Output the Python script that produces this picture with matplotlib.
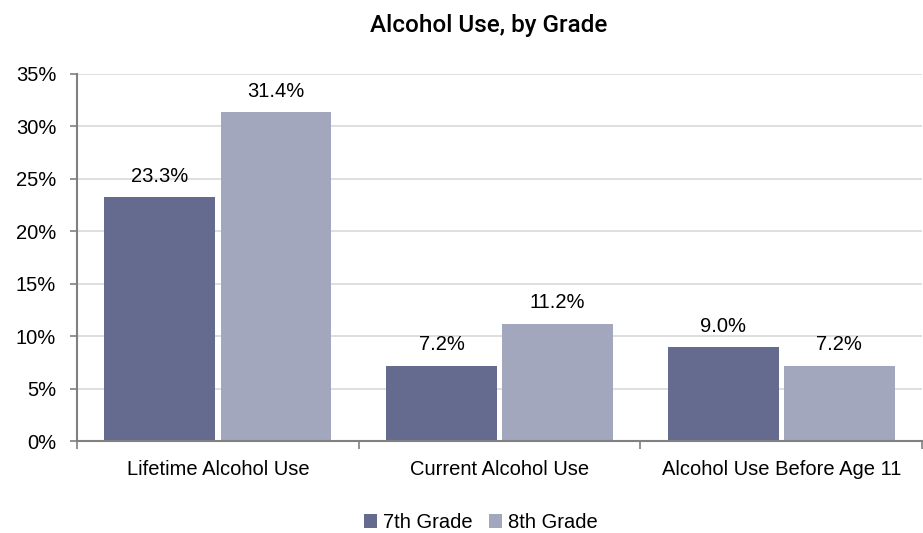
import matplotlib.pyplot as plt
import numpy as np
from matplotlib.ticker import FuncFormatter

categories = ['Lifetime Alcohol Use', 'Current Alcohol Use', 'Alcohol Use Before Age 11']
grade7 = [23.3, 7.2, 9.0]
grade8 = [31.4, 11.2, 7.2]
series_names = ['7th Grade', '8th Grade']

c7 = '#646B8E'
c8 = '#A3A7BE'

plt.rcParams['font.family'] = ['Liberation Sans', 'DejaVu Sans']
fs = 14.5

fig = plt.figure(figsize=(9.23, 5.33), dpi=100)
ax = fig.add_axes([0.0834, 0.1726, 0.9156, 0.6886])

x = np.arange(len(categories))
w = 0.393
off = 0.206
b7 = ax.bar(x - off, grade7, w, color=c7, label=series_names[0], zorder=2)
b8 = ax.bar(x + off, grade8, w, color=c8, label=series_names[1], zorder=2)

for bars, vals in ((b7, grade7), (b8, grade8)):
    for b, v in zip(bars, vals):
        ax.annotate(f'{v:.1f}%', (b.get_x() + b.get_width() / 2, v),
                    xytext=(0, 8), textcoords='offset points',
                    ha='center', va='bottom', fontsize=fs)

ax.set_xlim(-0.5, 2.5)
ax.set_ylim(0, 35)
ax.set_yticks(range(0, 36, 5))
ax.yaxis.set_major_formatter(FuncFormatter(lambda v, p: f'{v:.0f}%'))
ax.yaxis.grid(True, color='#D9D9D9', linewidth=1.2, zorder=0)
ax.set_axisbelow(True)

ax.set_xticks(x)
ax.set_xticklabels(categories, fontsize=fs)
ax.tick_params(axis='x', length=0, pad=14)
ax.set_xticks([-0.5, 0.5, 1.5, 2.5], minor=True)
ax.tick_params(axis='x', which='minor', length=6, color='#808080', width=1.2)
ax.tick_params(axis='y', length=5, color='#808080', width=1.2, labelsize=fs, pad=10)

for s in ('top', 'right'):
    ax.spines[s].set_visible(False)
for s in ('left', 'bottom'):
    ax.spines[s].set_color('#808080')
    ax.spines[s].set_linewidth(1.5)

fig.text(0.529, 0.953, 'Alcohol Use, by Grade', ha='center', va='center',
         fontsize=17.5, family=['Roboto', 'DejaVu Sans'], fontweight='medium')

ax.legend(loc='center', bbox_to_anchor=(0.478, -0.222), ncol=2, frameon=False,
          fontsize=fs, handlelength=0.65, handleheight=0.65, handletextpad=0.3,
          columnspacing=0.8, borderaxespad=0)

fig.savefig('out.png', dpi=100)
